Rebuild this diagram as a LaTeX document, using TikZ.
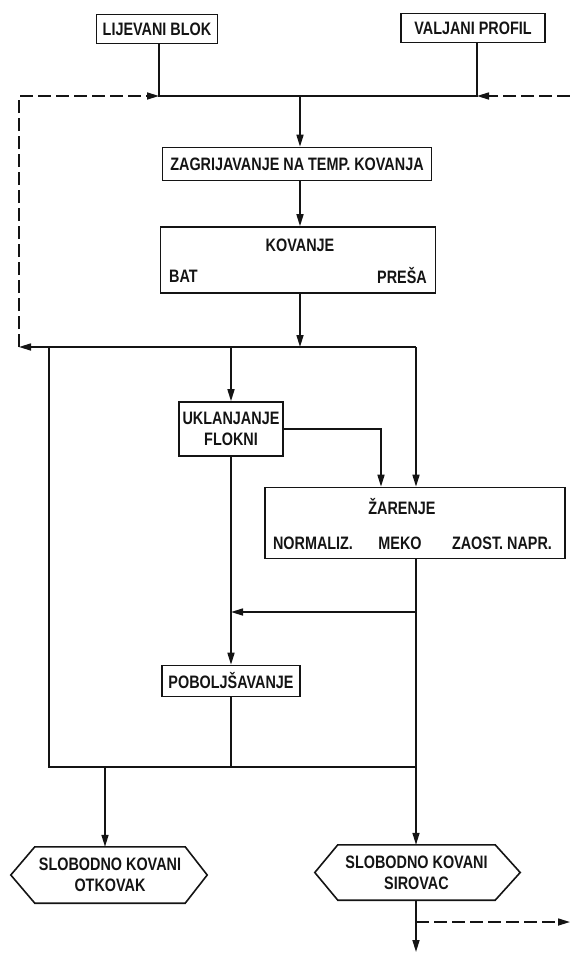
\documentclass[tikz,border=0pt]{standalone}
\usepackage{fontspec}
\setmainfont[FakeStretch=0.8]{Liberation Sans}
\usetikzlibrary{arrows.meta}
\definecolor{ink}{HTML}{141414}
\newcommand{\lettering}{\bfseries\fontsize{18}{21}\selectfont}
\tikzset{flow/.style={-{Triangle[length=12pt,width=7pt]},line width=1.6pt,ink},
line/.style={line width=1.6pt,ink},
back/.style={flow,dash pattern=on 13pt off 5pt},
box/.style={draw=ink,line width=1.6pt,inner sep=2pt,font=\lettering,text=ink},
lab/.style={font=\lettering,text=ink,align=center,inner sep=0pt}}

\begin{document}
\begin{tikzpicture}[x=1pt,y=-1pt]
\useasboundingbox (0,0) rectangle (570,953);
\node[box,minimum width=121,minimum height=29] (lijevani) at (157,29) {LIJEVANI BLOK};
\node[box,minimum width=144,minimum height=29] (valjani) at (473,28) {VALJANI PROFIL};
\node[box,minimum width=269,minimum height=33] (zagrij) at (297,164) {ZAGRIJAVANJE NA TEMP. KOVANJA};
\node[box,minimum width=275,minimum height=66] (kovanje) at (298,260) {};
\node[lab] (kovt) at (300,245) {KOVANJE};
\node[lab,anchor=west] (bat) at (169,276) {BAT};
\node[lab,anchor=east] (presa) at (427,276) {PREŠA};
\node[box,minimum width=104,minimum height=54,align=center] (flokni) at (231,429) {UKLANJANJE\\FLOKNI};
\node[box,minimum width=300,minimum height=71] (zarenje) at (415,523) {};
\node[lab] (zart) at (402,507) {ŽARENJE};
\node[lab] (normal) at (313,543) {NORMALIZ.};
\node[lab] (meko) at (400,543) {MEKO};
\node[lab] (zaost) at (502,543) {ZAOST. NAPR.};
\node[box,minimum width=138,minimum height=31] (poboljs) at (231,681) {POBOLJŠAVANJE};
\node[lab,minimum width=150,minimum height=56] (otkovak) at (110,875) {SLOBODNO KOVANI\\OTKOVAK};
\node[lab,minimum width=157,minimum height=55] (sirovac) at (416.5,872.5) {SLOBODNO KOVANI\\SIROVAC};
\draw[line] (otkovak.north west) -- (otkovak.north east) -- ([xshift=22pt]otkovak.east) -- (otkovak.south east) -- (otkovak.south west) -- ([xshift=-24pt]otkovak.west) -- cycle;
\draw[line] (sirovac.north west) -- (sirovac.north east) -- ([xshift=25pt]sirovac.east) -- (sirovac.south east) -- (sirovac.south west) -- ([xshift=-23pt]sirovac.west) -- cycle;
\coordinate (lbus) at (19,96);
\coordinate (jl) at (159,96);
\coordinate (jc) at (300,96);
\coordinate (jr) at (477,96);
\coordinate (rin) at (570,96);
\coordinate (lret) at (19,347);
\coordinate (ka) at (49,347);
\coordinate (kb) at (231,347);
\coordinate (kc) at (300,347);
\coordinate (kd) at (416,347);
\coordinate (fa) at (381,428);
\coordinate (zr) at (416,612);
\coordinate (pa) at (49,767);
\coordinate (pb) at (231,767);
\coordinate (pc) at (105,767);
\coordinate (pd) at (416,767);
\coordinate (sd) at (416,922);
\coordinate (sout) at (570,922);
\coordinate (send) at (416,952);
\draw[line] (lijevani.south -| jl) -- (jl) -- (jr) -- (valjani.south -| jr);
\draw[back] (rin) -- (jr);
\draw[back] (lret) -- (lbus) -- (jl);
\draw[flow] (jc) -- (jc |- zagrij.north);
\draw[flow] (jc |- zagrij.south) -- (jc |- kovanje.north);
\draw[flow] (jc |- kovanje.south) -- (kc);
\draw[flow] (kd) -- (lret);
\draw[line] (ka) -- (pa) -- (pd);
\draw[flow] (kb) -- (flokni.north);
\draw[flow] (kd) -- (kd |- zarenje.north);
\draw[flow] (flokni.east) -| (fa |- zarenje.north);
\draw[line] (kd |- zarenje.south) -- (pd);
\draw[flow] (zr) -- (zr -| kb);
\draw[flow] (flokni.south) -- (poboljs.north);
\draw[line] (poboljs.south) -- (pb);
\draw[flow] (pc) -- (pc |- otkovak.north);
\draw[flow] (pd) -- (pd |- sirovac.north);
\draw[flow] (pd |- sirovac.south) -- (send);
\draw[back] (sd) -- (sout);
\end{tikzpicture}
\end{document}
